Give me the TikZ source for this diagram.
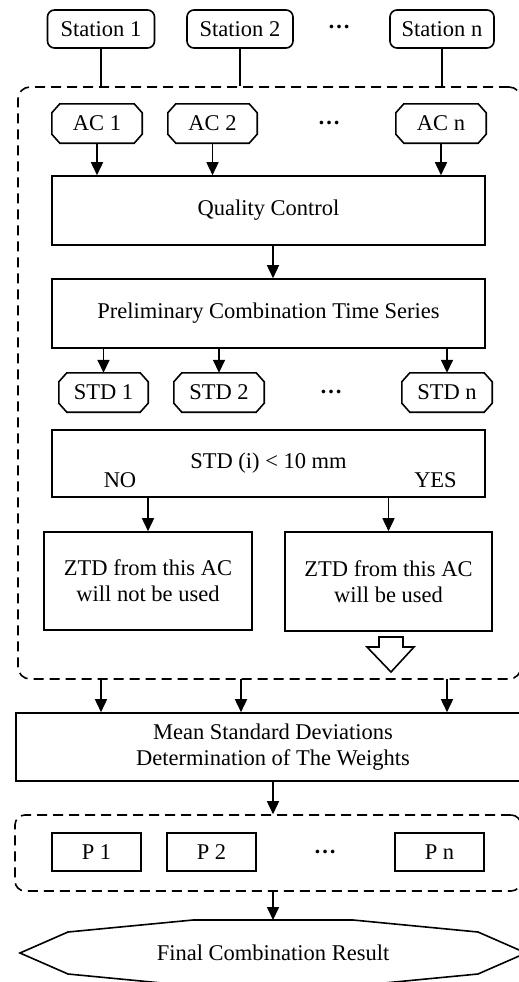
\documentclass[tikz,border=0pt]{standalone}
\usepackage{fontspec}
\setmainfont{Liberation Serif}
\usetikzlibrary{arrows.meta}
\newcommand\fsz{\fontsize{22.5}{26}\selectfont}
\newcommand\drawchamf[1]{\draw[ln] ([xshift=8pt]#1.north west) -- ([xshift=-8pt]#1.north east) -- ([yshift=-9pt]#1.north east) -- ([yshift=9pt]#1.south east) -- ([xshift=-8pt]#1.south east) -- ([xshift=8pt]#1.south west) -- ([yshift=9pt]#1.south west) -- ([yshift=-9pt]#1.north west) -- cycle;}
\tikzset{
  ln/.style={line width=1.6pt},
  base/.style={draw, line width=1.6pt, inner sep=0pt, align=center, font=\fsz},
  station/.style={base, rounded corners=7pt, minimum height=38pt},
  chtext/.style={inner sep=0pt, align=center, font=\fsz, minimum height=39pt},
  dots/.style={inner sep=0pt, font=\fsz\bfseries},
  lbl/.style={inner sep=0pt, font=\fsz},
  arr/.style={line width=1.6pt, -{Triangle[length=13pt,width=12pt]}},
  dashbox/.style={draw, line width=1.6pt, dash pattern=on 10pt off 6pt, rounded corners=12pt, inner sep=0pt},
}
\begin{document}
\begin{tikzpicture}[x=1pt,y=-1pt]
\useasboundingbox (0,0) rectangle (519,982);
\clip (0,0) rectangle (519,982);
\fill[white] (0,0) rectangle (519,982);

% stations
\node[station, minimum width=107pt] (s1) at (101,29) {Station 1};
\node[station, minimum width=106pt] (s2) at (240,29) {Station 2};
\node[station, minimum width=104pt] (sn) at (442,29) {Station n};
\node[dots] (d1) at (339,27) {\ldots};

% outer dashed box
\node[dashbox, minimum width=503pt, minimum height=592pt] (outer) at (269.5,383) {};

\draw[ln] (s1.south) -- (s1.south |- outer.north);
\draw[ln] (s2.south) -- (s2.south |- outer.north);
\draw[ln] (sn.south) -- (sn.south |- outer.north);

% AC nodes
\node[chtext, minimum width=90pt] (ac1) at (97,123.5) {AC 1};
\node[chtext, minimum width=89pt] (ac2) at (212.5,123.5) {AC 2};
\node[chtext, minimum width=90pt] (acn) at (441,123.5) {AC n};
\drawchamf{ac1}\drawchamf{ac2}\drawchamf{acn}
\node[dots] (d2) at (329,123) {\ldots};

% quality control
\node[base, minimum width=433pt, minimum height=69pt] (qc) at (268.5,210.5) {Quality Control};
\draw[arr] (ac1.south) -- (ac1.south |- qc.north);
\draw[arr] (ac2.south) -- (ac2.south |- qc.north);
\draw[arr] (acn.south) -- (acn.south |- qc.north);

% preliminary
\node[base, minimum width=433pt, minimum height=69pt] (pre) at (268.5,313.5) {Preliminary Combination Time Series};
\draw[arr] (273,245) coordinate (qcout) -- (qcout |- pre.north);

% STD nodes
\node[chtext, minimum width=89pt] (std1) at (103.5,392.5) {STD 1};
\node[chtext, minimum width=90pt] (std2) at (219,392.5) {STD 2};
\node[chtext, minimum width=90pt] (stdn) at (447,392.5) {STD n};
\drawchamf{std1}\drawchamf{std2}\drawchamf{stdn}
\node[dots] (d3) at (331,392) {\ldots};
\draw[arr] (std1.north |- pre.south) -- (std1.north);
\draw[arr] (std2.north |- pre.south) -- (std2.north);
\draw[arr] (stdn.north |- pre.south) -- (stdn.north);

% condition box
\node[base, minimum width=433pt, minimum height=67pt] (cond) at (268.5,463.5) {STD (i) < 10 mm};
\node[lbl] (no) at (120,480) {NO};
\node[lbl] (yes) at (435.5,480) {YES};

% ZTD boxes
\node[base, minimum width=208pt, minimum height=98pt] (zl) at (148,581) {ZTD from this AC\\will not be used};
\node[base, minimum width=207pt, minimum height=99pt] (zr) at (388.5,581.5) {ZTD from this AC\\will be used};
\draw[arr] (zl.north |- cond.south) -- (zl.north);
\draw[arr] (zr.north |- cond.south) -- (zr.north);

% hollow arrow
\draw[ln, line join=miter] (379,637) -- (403,637) -- (403,647) -- (414,647) -- (391,672) -- (367,647) -- (379,647) -- cycle;

% mean box
\node[base, minimum width=514pt, minimum height=68pt] (mean) at (273,747) {Mean Standard Deviations\\Determination of The Weights};
\coordinate (o1) at (101,679);
\coordinate (o2) at (241,679);
\coordinate (o3) at (447,679);
\draw[arr] (o1) -- (o1 |- mean.north);
\draw[arr] (o2) -- (o2 |- mean.north);
\draw[arr] (o3) -- (o3 |- mean.north);

% weights dashed box
\node[dashbox, rounded corners=10pt, minimum width=506pt, minimum height=76pt] (wbox) at (268,853) {};
\draw[arr] (mean.south) -- (mean.south |- wbox.north);
\node[base, minimum width=89pt, minimum height=38pt] (p1) at (96.5,852) {P 1};
\node[base, minimum width=89pt, minimum height=38pt] (p2) at (211.5,852) {P 2};
\node[base, minimum width=89pt, minimum height=38pt] (pn) at (439.5,852) {P n};
\node[dots] (d4) at (325,852) {\ldots};

% final
\draw[ln, line join=miter] (20,953) -- (68,932) -- (193,920) -- (353,920) -- (478,932) -- (526,953) -- (478,974) -- (353,986) -- (193,986) -- (68,974) -- cycle;
\node[lbl] (final) at (273,953) {Final Combination Result};
\coordinate (ftop) at (273,920);
\draw[arr] (mean.south |- wbox.south) -- (ftop);
\end{tikzpicture}
\end{document}
